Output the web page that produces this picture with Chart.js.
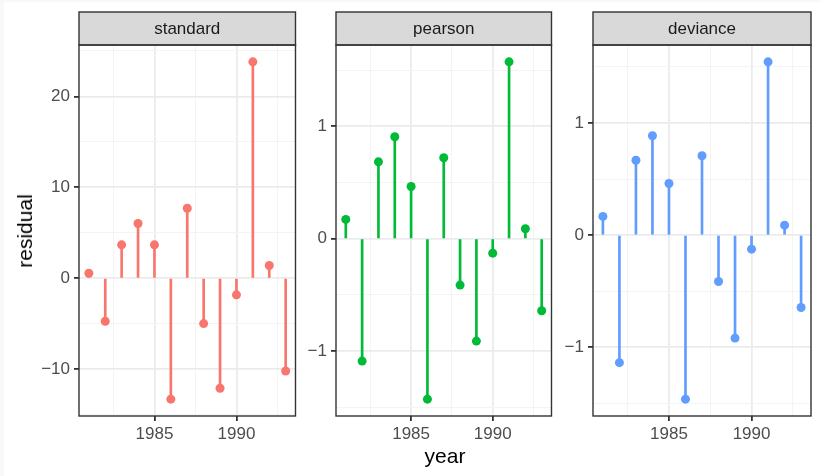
<!DOCTYPE html>
<html>
<head>
<meta charset="utf-8">
<script src="https://cdn.jsdelivr.net/npm/chart.js@4.4.0/dist/chart.umd.min.js"></script>
<style>
  body { margin: 0; background: #f8f8f8; width: 820px; height: 476px; overflow: hidden; }
  #sheet { position: absolute; left: 4px; top: 2px; width: 816px; height: 474px; background: #fff; }
  canvas { position: absolute; top: 0; }
  .ttl { position: absolute; font-family: "Liberation Sans", Arial, sans-serif; font-size: 21px; color: #000; white-space: nowrap; }
</style>
</head>
<body>
<div id="sheet"></div>
<canvas id="standard" width="300" height="476" style="left:0px"></canvas>
<canvas id="pearson" width="258" height="476" style="left:298px"></canvas>
<canvas id="deviance" width="264" height="476" style="left:556px"></canvas>
<div class="ttl" style="left:25px;top:231px;transform:translate(-50%,-50%) rotate(-90deg);">residual</div>
<div class="ttl" style="left:445px;top:456px;transform:translate(-50%,-50%);">year</div>
<script>
var years = [1981, 1982, 1983, 1984, 1985, 1986, 1987, 1988, 1989, 1990, 1991, 1992, 1993];

var standardRes = [0.55, -4.73, 3.67, 6.02, 3.67, -13.3, 7.7, -4.99, -12.1, -1.83, 23.8, 1.40, -10.2];
var pearsonRes  = [0.172, -1.088, 0.684, 0.907, 0.465, -1.426, 0.72, -0.412, -0.91, -0.128, 1.573, 0.089, -0.64];
var devianceRes = [0.167, -1.137, 0.668, 0.886, 0.461, -1.462, 0.708, -0.413, -0.918, -0.125, 1.545, 0.089, -0.645];

var xMajor = [1985, 1990];
var xMinor = [1982.5, 1987.5, 1992.5];
var stdMajor = [-10, 0, 10, 20];
var stdMinor = [-15, -5, 5, 15, 25];
var resMajor = [-1, 0, 1];
var resMinor = [-1.5, -0.5, 0.5, 1.5];

var FONT = '"Liberation Sans", Arial, sans-serif';

// ggplot-style 5% expansion around the data
function expand(lo, hi) {
  var pad = (hi - lo) * 0.05;
  return [lo - pad, hi + pad];
}

function minus(v) {
  return String(v).replace('-', '\u2212');
}

// strip header + panel border drawn on top of everything
var stripPlugin = {
  id: 'strip',
  afterDraw: function(chart, args, opts) {
    var a = chart.chartArea;
    var ctx = chart.ctx;
    ctx.save();
    ctx.fillStyle = '#D9D9D9';
    ctx.fillRect(a.left, 12, a.right - a.left, a.top - 12);
    ctx.strokeStyle = '#333333';
    ctx.lineWidth = 1.4;
    ctx.strokeRect(a.left, 12, a.right - a.left, a.top - 12);
    ctx.strokeRect(a.left, a.top, a.right - a.left, a.bottom - a.top);
    ctx.fillStyle = '#1A1A1A';
    ctx.font = '17px ' + FONT;
    ctx.textAlign = 'center';
    ctx.textBaseline = 'middle';
    ctx.fillText(opts.label, (a.left + a.right) / 2, (12 + a.top) / 2 + 1);
    ctx.restore();
  }
};

function panel(id, label, values, color, major, minor, axisW, padRight) {
  var yr = expand(Math.min.apply(null, values), Math.max.apply(null, values));
  var xr = expand(years[0], years[years.length - 1]);

  var stems = [];
  var dots = [];
  for (var i in years) {
    stems.push({ x: years[i], y: [0, values[i]] });
    dots.push({ x: years[i], y: values[i] });
  }

  function gridFor(maj) {
    return {
      offset: false,
      color: function(c) { return maj.indexOf(c.tick.value) >= 0 ? '#EBEBEB' : '#F4F4F4'; },
      lineWidth: function(c) { return maj.indexOf(c.tick.value) >= 0 ? 1.8 : 1; },
      tickColor: function(c) { return maj.indexOf(c.tick.value) >= 0 ? '#333333' : 'rgba(0,0,0,0)'; },
      tickLength: 5
    };
  }

  return new Chart(document.getElementById(id), {
    type: 'bar',
    data: {
      datasets: [
        {
          type: 'scatter',
          data: dots,
          backgroundColor: color,
          borderWidth: 0,
          pointRadius: 4.5,
          order: 1
        },
        {
          type: 'bar',
          data: stems,
          backgroundColor: color,
          barThickness: 2,
          borderWidth: 0,
          order: 2
        }
      ]
    },
    options: {
      responsive: false,
      animation: false,
      layout: { padding: { top: 45, right: padRight, left: 0, bottom: 0 } },
      plugins: {
        legend: { display: false },
        tooltip: { enabled: false },
        strip: { label: label }
      },
      scales: {
        x: {
          type: 'linear',
          min: xr[0],
          max: xr[1],
          offset: false,
          border: { display: false },
          grid: gridFor(xMajor),
          afterBuildTicks: function(s) {
            s.ticks = xMinor.concat(xMajor).map(function(v) { return { value: v }; });
          },
          afterFit: function(s) { s.height = 60; },
          ticks: {
            autoSkip: false,
            maxRotation: 0,
            padding: 3,
            color: '#4D4D4D',
            font: { family: FONT, size: 17 },
            callback: function(v) { return xMajor.indexOf(v) >= 0 ? String(v) : ''; }
          }
        },
        y: {
          type: 'linear',
          min: yr[0],
          max: yr[1],
          border: { display: false },
          grid: gridFor(major),
          afterBuildTicks: function(s) {
            s.ticks = minor.concat(major).map(function(v) { return { value: v }; });
          },
          afterFit: function(s) { s.width = axisW; },
          ticks: {
            autoSkip: false,
            padding: 4,
            color: '#4D4D4D',
            font: { family: FONT, size: 17 },
            callback: function(v) { return major.indexOf(v) >= 0 ? minus(v) : ''; }
          }
        }
      }
    },
    plugins: [stripPlugin]
  });
}

panel('standard', 'standard', standardRes, '#F8766D', stdMajor, stdMinor, 79, 4);
panel('pearson', 'pearson', pearsonRes, '#00BA38', resMajor, resMinor, 38, 3);
panel('deviance', 'deviance', devianceRes, '#619CFF', resMajor, resMinor, 37, 9);
</script>
</body>
</html>
